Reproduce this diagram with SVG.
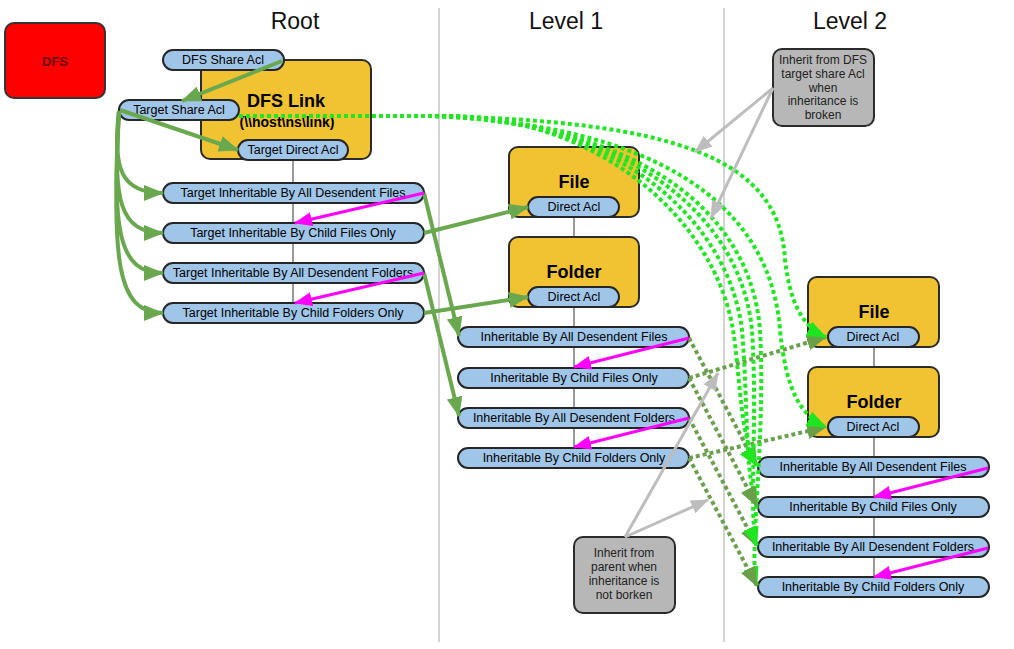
<svg xmlns="http://www.w3.org/2000/svg" width="1014" height="649" viewBox="0 0 1014 649">
<defs>
<style>
.title{font-family:"Liberation Sans",Arial,sans-serif;font-size:23px;fill:#111;text-anchor:middle}
.pill{fill:#9fc5e8;stroke:#262626;stroke-width:2}
.pt{font-family:"Liberation Sans",Arial,sans-serif;font-size:12.5px;fill:#000;text-anchor:middle}
.gold{fill:#f1c232;stroke:#2b2b2b;stroke-width:2}
.bt{font-family:"Liberation Sans",Arial,sans-serif;font-weight:bold;fill:#000;text-anchor:middle}
.note{fill:#b7b7b7;stroke:#2b2b2b;stroke-width:2}
.nt{font-family:"Liberation Sans",Arial,sans-serif;font-size:12px;fill:#222;text-anchor:middle}
.col{stroke:#d4d4d4;stroke-width:2;fill:none}
.tree{stroke:#9a9a9a;stroke-width:2;fill:none}
.g{stroke:#6aa84f;stroke-width:4;fill:none;marker-end:url(#hG)}
.m{stroke:#ff00ff;stroke-width:3;fill:none;marker-end:url(#hM)}
.b{stroke:#22e622;stroke-width:4;fill:none;stroke-dasharray:4 3;marker-end:url(#hB)}
.d{stroke:#6c9f4e;stroke-width:4;fill:none;stroke-dasharray:4 3;marker-end:url(#hD)}
.gr{stroke:#bdbdbd;stroke-width:3;fill:none;marker-end:url(#hR)}
</style>
<marker id="hG" markerUnits="userSpaceOnUse" markerWidth="20" markerHeight="16" refX="19" refY="8" orient="auto"><path d="M0,0 L20,8 L0,16 z" fill="#6aa84f"/></marker>
<marker id="hM" markerUnits="userSpaceOnUse" markerWidth="18" markerHeight="14" refX="17" refY="7" orient="auto"><path d="M0,0 L18,7 L0,14 z" fill="#ff00ff"/></marker>
<marker id="hB" markerUnits="userSpaceOnUse" markerWidth="20" markerHeight="16" refX="19" refY="8" orient="auto"><path d="M0,0 L20,8 L0,16 z" fill="#1ee61e"/></marker>
<marker id="hD" markerUnits="userSpaceOnUse" markerWidth="20" markerHeight="16" refX="19" refY="8" orient="auto"><path d="M0,0 L20,8 L0,16 z" fill="#6a9f4a"/></marker>
<marker id="hR" markerUnits="userSpaceOnUse" markerWidth="18" markerHeight="14" refX="17" refY="7" orient="auto"><path d="M0,0 L18,7 L0,14 z" fill="#bdbdbd"/></marker>
</defs>
<rect width="1014" height="649" fill="#fff"/>
<g id="columns">
<line class="col" x1="439" y1="8" x2="439" y2="642"/>
<line class="col" x1="724" y1="8" x2="724" y2="642"/>
<text class="title" x="295" y="29">Root</text>
<text class="title" x="566" y="29">Level 1</text>
<text class="title" x="850" y="29">Level 2</text>
</g>
<g id="tree-lines">
<line class="tree" x1="293" y1="160" x2="293" y2="313"/>
<line class="tree" x1="574" y1="217" x2="574" y2="458"/>
<line class="tree" x1="874" y1="347" x2="874" y2="587"/>
</g>
<g id="dfs"><rect x="5" y="23" width="100" height="75" rx="9" fill="#ff0000" stroke="#333" stroke-width="2"/><text class="bt" x="55" y="66" font-size="13" style="fill:#6a0000">DFS</text></g>
<g id="dfs-link"><rect class="gold" x="201" y="60" width="170" height="99" rx="9"/><text class="bt" x="286" y="107" font-size="18">DFS Link</text><text class="bt" x="287" y="127" font-size="14">(\\host\ns\link)</text></g>
<g id="dfs-share-acl"><rect class="pill" x="163" y="50" width="121" height="20" rx="10"/><text class="pt" x="223" y="64">DFS Share Acl</text></g>
<g id="target-share-acl"><rect class="pill" x="119" y="100" width="120" height="20" rx="10"/><text class="pt" x="179" y="114">Target Share Acl</text></g>
<g id="target-direct-acl"><rect class="pill" x="238" y="140" width="110" height="20" rx="10"/><text class="pt" x="293" y="154">Target Direct Acl</text></g>
<g id="root-1"><rect class="pill" x="163" y="183" width="261" height="20" rx="10"/><text class="pt" x="293" y="197">Target Inheritable By All Desendent Files</text></g>
<g id="root-2"><rect class="pill" x="163" y="223" width="261" height="20" rx="10"/><text class="pt" x="293" y="237">Target Inheritable By Child Files Only</text></g>
<g id="root-3"><rect class="pill" x="163" y="263" width="261" height="20" rx="10"/><text class="pt" x="293" y="277">Target Inheritable By All Desendent Folders</text></g>
<g id="root-4"><rect class="pill" x="163" y="303" width="261" height="20" rx="10"/><text class="pt" x="293" y="317">Target Inheritable By Child Folders Only</text></g>
<g id="l1-file"><rect class="gold" x="509" y="147" width="130" height="70" rx="9"/><text class="bt" x="574" y="188" font-size="18">File</text><rect class="pill" x="528" y="197" width="91" height="20" rx="10"/><text class="pt" x="574" y="211">Direct Acl</text></g>
<g id="l1-folder"><rect class="gold" x="509" y="237" width="130" height="70" rx="9"/><text class="bt" x="574" y="278" font-size="18">Folder</text><rect class="pill" x="528" y="287" width="91" height="20" rx="10"/><text class="pt" x="574" y="301">Direct Acl</text></g>
<g id="l1-1"><rect class="pill" x="458" y="327" width="231" height="20" rx="10"/><text class="pt" x="574" y="341">Inheritable By All Desendent Files</text></g>
<g id="l1-2"><rect class="pill" x="458" y="368" width="231" height="20" rx="10"/><text class="pt" x="574" y="382">Inheritable By Child Files Only</text></g>
<g id="l1-3"><rect class="pill" x="458" y="408" width="231" height="20" rx="10"/><text class="pt" x="574" y="422">Inheritable By All Desendent Folders</text></g>
<g id="l1-4"><rect class="pill" x="458" y="448" width="231" height="20" rx="10"/><text class="pt" x="574" y="462">Inheritable By Child Folders Only</text></g>
<g id="l2-file"><rect class="gold" x="808" y="277" width="131" height="70" rx="9"/><text class="bt" x="874" y="318" font-size="18">File</text><rect class="pill" x="828" y="327" width="91" height="20" rx="10"/><text class="pt" x="873" y="341">Direct Acl</text></g>
<g id="l2-folder"><rect class="gold" x="808" y="367" width="131" height="70" rx="9"/><text class="bt" x="874" y="408" font-size="18">Folder</text><rect class="pill" x="828" y="417" width="91" height="20" rx="10"/><text class="pt" x="873" y="431">Direct Acl</text></g>
<g id="l2-1"><rect class="pill" x="758" y="457" width="231" height="20" rx="10"/><text class="pt" x="873" y="471">Inheritable By All Desendent Files</text></g>
<g id="l2-2"><rect class="pill" x="758" y="497" width="231" height="20" rx="10"/><text class="pt" x="873" y="511">Inheritable By Child Files Only</text></g>
<g id="l2-3"><rect class="pill" x="758" y="537" width="231" height="20" rx="10"/><text class="pt" x="873" y="551">Inheritable By All Desendent Folders</text></g>
<g id="l2-4"><rect class="pill" x="758" y="577" width="231" height="20" rx="10"/><text class="pt" x="873" y="591">Inheritable By Child Folders Only</text></g>
<g id="note-broken"><rect class="note" x="773" y="49" width="101" height="77" rx="9"/><text class="nt"><tspan x="823" y="64">Inherit from DFS</tspan><tspan x="823" y="78">target share Acl</tspan><tspan x="823" y="92">when</tspan><tspan x="823" y="105">inheritance is</tspan><tspan x="823" y="119">broken</tspan></text></g>
<g id="note-parent"><rect class="note" x="574" y="537" width="101" height="76" rx="9"/><text class="nt"><tspan x="624" y="557">Inherit from</tspan><tspan x="624" y="571">parent when</tspan><tspan x="624" y="585">inheritance is</tspan><tspan x="624" y="599">not borken</tspan></text></g>
<g id="connectors">
<path class="g" d="M282,61 L182,101"/>
<path class="g" d="M120,110 L238,150"/>
<path class="g" d="M119,111 C112,170 122,193 163,193"/>
<path class="g" d="M119,111 C112,200 120,233 163,233"/>
<path class="g" d="M119,111 C112,230 118,273 163,273"/>
<path class="g" d="M119,111 C112,260 116,313 163,313"/>
<path class="g" d="M424,233 L528,207"/>
<path class="g" d="M424,313 L528,297"/>
<path class="g" d="M424,193 L459,336"/>
<path class="g" d="M424,273 L459,416"/>
<path class="d" d="M689,338 L757,466"/>
<path class="d" d="M689,418 L757,546"/>
<path class="d" d="M689,378 L826,337"/>
<path class="d" d="M689,458 L826,427"/>
<path class="b" d="M239,116 L425,116 C680,120 780,160 785,260 C790,300 800,325 826,337"/>
<path class="b" d="M239,116 L430,116 C650,124 770,200 780,330 C786,390 800,415 826,427"/>
<path class="b" d="M239,116 L450,116 C600,118 715,220 733,330 C740,372 740,440 757,466"/>
<path class="b" d="M239,116 L445,116 C610,120 728,215 742,330 C748,400 745,480 757,506"/>
<path class="b" d="M239,116 L440,116 C620,122 740,210 752,330 C758,420 748,520 757,546"/>
<path class="b" d="M239,116 L435,116 C630,124 750,205 760,330 C766,440 748,560 757,586"/>
<path class="d" d="M689,378 L757,506"/>
<path class="d" d="M689,458 L757,586"/>
<path class="m" d="M424,193 L295,223"/>
<path class="m" d="M424,273 L295,303"/>
<path class="m" d="M689,338 L574,367"/>
<path class="m" d="M689,418 L574,447"/>
<path class="m" d="M988,468 L874,497"/>
<path class="m" d="M988,548 L874,577"/>
<path class="gr" d="M773,88 L695,152"/>
<path class="gr" d="M773,88 L711,218"/>
<path class="gr" d="M625,537 L718,373"/>
<path class="gr" d="M625,537 L708,500"/>
</g>
</svg>
